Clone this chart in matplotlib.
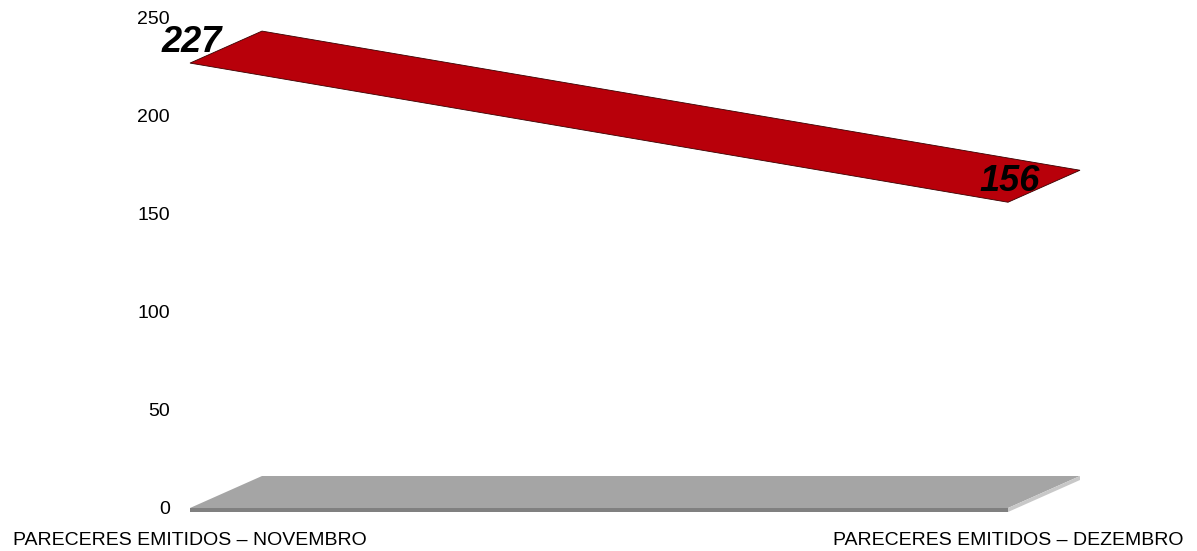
import matplotlib
matplotlib.use("Agg")
import matplotlib.pyplot as plt
from matplotlib.patches import Polygon

categories = ["PARECERES EMITIDOS – NOVEMBRO", "PARECERES EMITIDOS – DEZEMBRO"]
values = [227, 156]
yticks = [0, 50, 100, 150, 200, 250]

W, H = 1197, 551
fig = plt.figure(figsize=(W / 100, H / 100), dpi=100)
ax_l, ax_r, ax_b, ax_t = 190, 1008, 508, 18
ax = fig.add_axes([ax_l / W, (H - ax_b) / H, (ax_r - ax_l) / W, (ax_b - ax_t) / H])
ax.set_xlim(0, len(categories) - 1)
ax.set_ylim(0, 250)
for s in ax.spines.values():
    s.set_visible(False)

# depth offset in data units (72 px right, 32 px up)
dx = 72 / (ax_r - ax_l) * (len(categories) - 1)
dy = 32 / (ax_b - ax_t) * 250
thick = 4 / (ax_b - ax_t) * 250

x = list(range(len(categories)))

# floor
floor_top = Polygon([(x[0], 0), (x[-1], 0), (x[-1] + dx, dy), (x[0] + dx, dy)],
                    closed=True, facecolor="#a5a5a5", edgecolor="none", clip_on=False, zorder=2)
floor_front = Polygon([(x[0], 0), (x[-1], 0), (x[-1], -thick), (x[0], -thick)],
                      closed=True, facecolor="#808080", edgecolor="none", clip_on=False, zorder=2)
floor_side = Polygon([(x[-1], 0), (x[-1] + dx, dy), (x[-1] + dx, dy - thick), (x[-1], -thick)],
                     closed=True, facecolor="#c8c8c8", edgecolor="none", clip_on=False, zorder=2)
for p in (floor_top, floor_front, floor_side):
    ax.add_patch(p)

# ribbon
ribbon = Polygon([(x[0], values[0]), (x[-1], values[-1]),
                  (x[-1] + dx, values[-1] + dy), (x[0] + dx, values[0] + dy)],
                 closed=True, facecolor="#b8000a", edgecolor="#3a0000", linewidth=0.6,
                 clip_on=False, zorder=3)
ax.add_patch(ribbon)

for xi, v in zip(x, values):
    ax.annotate(str(v), (xi, v), xytext=(2, 21), textcoords="offset pixels",
                ha="center", va="center", fontsize=26, fontweight="bold", fontstyle="italic",
                family="Liberation Sans", color="black", zorder=5, annotation_clip=False)

ax.set_yticks(yticks)
ax.set_yticklabels([str(t) for t in yticks], fontsize=14, family="Liberation Sans")
ax.tick_params(axis="y", length=0, pad=14.4)
ax.set_xticks(x)
ax.set_xticklabels(categories, fontsize=14, family="Liberation Sans")
ax.tick_params(axis="x", length=0, pad=17)

fig.savefig("out.png", dpi=100)
